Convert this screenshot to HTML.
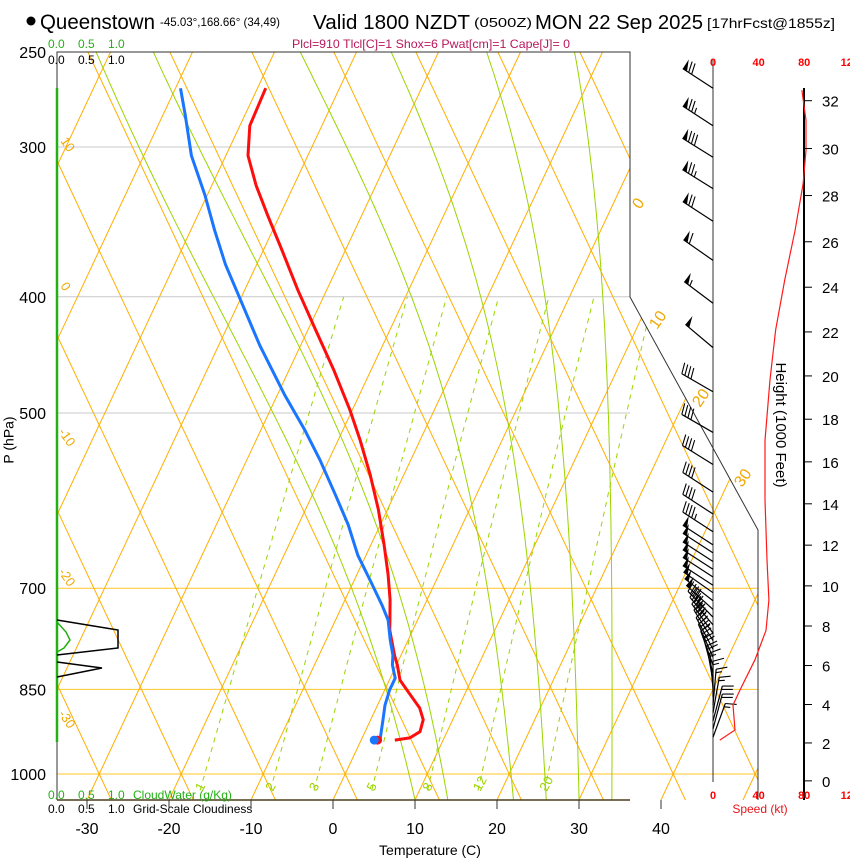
<!DOCTYPE html>
<html><head><meta charset="utf-8">
<style>
html,body{margin:0;padding:0;background:#fff;}
svg{display:block;font-family:"Liberation Sans",sans-serif;}
</style></head>
<body>
<svg id="chart" width="850" height="860" viewBox="0 0 850 860" xmlns="http://www.w3.org/2000/svg">
<defs>
<clipPath id="plotclip"><polygon points="57,52 630,52 630,297 758,530 758,800 57,800"/></clipPath>
<clipPath id="mainclip"><rect x="57" y="52" width="573" height="748"/></clipPath>
</defs>
<g id="title">
<circle cx="31" cy="21" r="4.5" fill="#000"/>
<text x="40" y="29" font-size="21" textLength="115" lengthAdjust="spacingAndGlyphs">Queenstown</text>
<text x="160" y="26" font-size="12" textLength="120" lengthAdjust="spacingAndGlyphs">-45.03°,168.66° (34,49)</text>
<text x="313" y="29" font-size="20" textLength="157" lengthAdjust="spacingAndGlyphs">Valid 1800 NZDT</text>
<text x="474" y="27" font-size="13" textLength="58" lengthAdjust="spacingAndGlyphs">(0500Z)</text>
<text x="535" y="29" font-size="20" textLength="168" lengthAdjust="spacingAndGlyphs">MON 22 Sep 2025</text>
<text x="707" y="28" font-size="14" textLength="128" lengthAdjust="spacingAndGlyphs">[17hrFcst@1855z]</text>
<text x="292" y="48" font-size="12" fill="#b8185c" textLength="278" lengthAdjust="spacingAndGlyphs">Plcl=910 Tlcl[C]=1 Shox=6 Pwat[cm]=1 Cape[J]= 0</text>
</g>
<g id="grid" clip-path="url(#plotclip)"></g>
<g id="frame">
<polyline points="57,800 57,52 630,52 630,297 758,530 758,800" fill="none" stroke="#333" stroke-width="1"/>
<line x1="57" y1="800" x2="630" y2="800" stroke="#4a3f1a" stroke-width="1.5"/>
<line x1="713" y1="60" x2="713" y2="782" stroke="#333" stroke-width="1"/>
<line x1="804" y1="88" x2="804" y2="800" stroke="#000" stroke-width="2"/>
</g>
<g id="labels" font-size="15">
<text x="10" y="440" font-size="14" transform="rotate(-90 10 440)" text-anchor="middle" dominant-baseline="middle">P (hPa)</text>
<text x="430" y="855" font-size="14" text-anchor="middle">Temperature (C)</text>
<text x="780" y="425" font-size="15" transform="rotate(90 780 425)" text-anchor="middle" dominant-baseline="middle">Height (1000 Feet)</text>
<text x="760" y="813" font-size="12" fill="#e8141c" text-anchor="middle">Speed (kt)</text>
<g font-size="12" fill="#22b014"><text x="48" y="48">0.0</text><text x="78" y="48">0.5</text><text x="108" y="48">1.0</text></g>
<g font-size="12" fill="#000"><text x="48" y="64">0.0</text><text x="78" y="64">0.5</text><text x="108" y="64">1.0</text></g>
<g font-size="12" fill="#22b014"><text x="48" y="799">0.0</text><text x="78" y="799">0.5</text><text x="108" y="799">1.0</text><text x="133" y="799">CloudWater (g/Kg)</text></g>
<g font-size="12" fill="#000"><text x="48" y="813">0.0</text><text x="78" y="813">0.5</text><text x="108" y="813">1.0</text><text x="133" y="813">Grid-Scale Cloudiness</text></g>
<g font-size="13" fill="#f0a800">
<text transform="translate(60,141) rotate(55)">10</text>
<text transform="translate(60,286) rotate(55)">0</text>
<text transform="translate(58,432) rotate(55)">-10</text>
<text transform="translate(58,572) rotate(55)">-20</text>
<text transform="translate(58,714) rotate(55)">-30</text>
<text transform="translate(640,210) rotate(-55)" font-size="16">0</text>
<text transform="translate(657,330) rotate(-55)" font-size="16">10</text>
<text transform="translate(700,408) rotate(-55)" font-size="16">20</text>
<text transform="translate(742,488) rotate(-55)" font-size="16">30</text>
</g>
</g>
<g id="cloud">
<line x1="57" y1="88" x2="57" y2="742" stroke="#22b014" stroke-width="2.5"/>
<polyline points="57,620 118,630 118,648 57,655" fill="none" stroke="#000" stroke-width="1.5"/>
<polyline points="57,662 102,668 57,677" fill="none" stroke="#000" stroke-width="1.5"/>
<polyline points="57,622 66,632 70,640 64,648 57,652" fill="none" stroke="#22b014" stroke-width="1.5"/>
</g>
<g id="data" clip-path="url(#mainclip)"></g>
<g id="wind"></g>
<g id="axes"></g>
</svg>
<script>
// ---- data ----
const pressureTicks = [250, 300, 400, 500, 700, 850, 1000];
const tempTicks = [-30, -20, -10, 0, 10, 20, 30, 40];
const heightTicks = [0, 2, 4, 6, 8, 10, 12, 14, 16, 18, 20, 22, 24, 26, 28, 30, 32];
const speedTicks = [0, 40, 80, 120];
const mixRatios = [1, 2, 3, 5, 8, 12, 20];
const moistStartT = [10, 14, 22, 26, 30, 34];
const tempP = [268,288,305,323,342,366,395,426,460,497,527,563,602,644,682,716,759,796,811,835,859,881,901,922,933,937];
const tempT = [-49.0,-48.8,-47.3,-44.6,-41.5,-37.7,-33.5,-29.1,-24.6,-20.3,-17.3,-14.1,-11.1,-8.4,-6.2,-4.5,-2.8,-0.8,0.1,1.3,3.4,5.3,6.4,6.7,5.8,4.1];
const dewP = [268,282,305,329,352,376,402,439,483,517,547,585,620,657,689,723,744,773,796,811,832,851,876,901,937];
const dewT = [-59.4,-57.3,-54.2,-50.3,-47.1,-43.8,-40.0,-35.0,-29.1,-24.6,-21.1,-17.2,-13.9,-11.0,-8.1,-5.2,-3.6,-2.2,-1.0,-0.5,0.6,0.6,0.9,1.5,2.3];
const sfcP = 937, sfcT = 2.0, sfcTd = 1.6;
const windP = [268,288,306,325,346,373,405,441,480,519,552,582,607,628,644,654,665,675,685,696,706,717,729,740,751,763,774,787,799,811,824,837,849,863,876,889,903,917,932];
const windSpd = [70,75,78,75,70,62,55,50,40,40,40,40,40,45,48,48,48,48,48,48,48,48,48,46,45,43,40,35,30,25,22,18,15,15,15,17,20,20,15];
const windDir = [303,303,302,302,303,305,307,310,300,300,302,303,303,303,303,303,303,303,303,303,305,308,312,316,320,324,328,332,336,340,345,350,355,0,5,10,15,15,20];
const speedP = [269,285,302,322,352,387,426,469,527,591,663,716,759,803,851,876,919,937];
const speedV = [78,81.6,81.6,79,72,63,55,50,45.6,45.6,47.4,49,46.5,36.8,23.7,17.5,19.3,6];

// ---- axis functions ----
const NS = "http://www.w3.org/2000/svg";
function yP(p){ return 774 - 520.8*Math.log(1000/p); }
function xT(T,p){ return 333 + 8.2*T + 0.47*(800 - yP(p)); }
function pY(y){ return 1000*Math.exp(-(774-y)/520.8); }
function xSpd(s){ return 713 + 1.14*s; }
function yHt(kft){ const zm = kft*304.8; const p = 1013.25*Math.pow(1 - zm/44330.8, 5.2559); return yP(p); }
function mk(tag, attrs, parent){ const e = document.createElementNS(NS, tag); for (const k in attrs) e.setAttribute(k, attrs[k]); parent.appendChild(e); return e; }
function pathFrom(pts){ return pts.map((q,i)=>(i?'L':'M')+q[0].toFixed(1)+','+q[1].toFixed(1)).join(''); }

const grid = document.getElementById('grid');
// pressure lines
pressureTicks.forEach(p=>{
  const y = yP(p);
  const orange = (p===700||p===850||p===1000);
  const l = mk('line',{x1:57,y1:y,x2:orange?758:630,y2:y,stroke:orange?'#ffc629':'#c8c8c8','stroke-width':1},grid);
  
  
});
// isotherms & dry adiabats (straight)
for (let k=-20;k<=12;k++){
  const c = 345.2 + 82*k;
  const a = mk('line',{x1:c+0.47*(774-810),y1:810,x2:c+0.47*(774-40),y2:40,stroke:'#ffae00','stroke-width':1},grid);
  
  
  const b = mk('line',{x1:c-0.47*(774-810),y1:810,x2:c-0.47*(774-40),y2:40,stroke:'#ffae00','stroke-width':1},grid);
  
  
}
// moist adiabats
function esat(T){ return 6.112*Math.exp(17.67*T/(T+243.5)); }
moistStartT.forEach(T0=>{
  let T=T0, pts=[];
  for (let p=1051; p>=245; p-=3){
    pts.push([xT(T,p), yP(p)]);
    const Tk=T+273.15, es=esat(T), rs=0.622*es/(p-es);
    const dTdp=(287*Tk+2.5e6*rs)/(p*(1005+(2.5e6*2.5e6*rs*0.622)/(287*Tk*Tk)));
    T -= dTdp*3;
  }
  const m = mk('path',{d:pathFrom(pts),fill:'none',stroke:'#9bd400','stroke-width':1},grid);
  
  
});
// mixing ratio lines
mixRatios.forEach(w=>{
  const pts=[];
  for (let p=1032; p>=400; p-=8){
    const e=w*p/(622+w), L=Math.log(e/6.112), Td=243.5*L/(17.67-L);
    pts.push([xT(Td,p), yP(p)]);
  }
  const m = mk('path',{d:pathFrom(pts),fill:'none',stroke:'#9bd400','stroke-width':1,'stroke-dasharray':'5,5'},grid);
  
  
  const e=w*1030/(622+w), L=Math.log(e/6.112), Td=243.5*L/(17.67-L);
  const x = xT(Td,1030)+2;
  const t = mk('text',{x:0,y:0,'font-size':13,fill:'#9bd400',transform:`translate(${x.toFixed(1)},792) rotate(-62)`},grid);
  t.textContent = String(w);
  
  
});

// sounding
const data = document.getElementById('data');
const tPath = mk('path',{d:pathFrom(tempP.map((p,i)=>[xT(tempT[i],p),yP(p)])),fill:'none',stroke:'#ff0d0d','stroke-width':3,'stroke-linejoin':'round'},data);


const dPath = mk('path',{d:pathFrom(dewP.map((p,i)=>[xT(dewT[i],p),yP(p)])),fill:'none',stroke:'#1a75ff','stroke-width':3,'stroke-linejoin':'round'},data);


const sd1 = mk('circle',{cx:xT(sfcT,sfcP),cy:yP(sfcP),r:4.5,fill:'#ff0d0d'},data);


const sd2 = mk('circle',{cx:xT(sfcTd,sfcP),cy:yP(sfcP),r:4.5,fill:'#1a75ff'},data);



// wind barbs
const wind = document.getElementById('wind');
windP.forEach((p,i)=>{
  const g = mk('g',{},wind);
  
  
  const d = windDir[i]*Math.PI/180, ux=Math.sin(d), uy=-Math.cos(d), nx=-uy, ny=ux;
  const bx=713, by=yP(p), L=36;
  const tx=bx+ux*L, ty=by+uy*L;
  mk('line',{x1:bx,y1:by,x2:tx,y2:ty,stroke:'#000','stroke-width':1.2},g);
  let s = Math.round(windSpd[i]/5)*5, pos=0;
  while (s>=50){
    const ax=tx-ux*pos, ay=ty-uy*pos, cx2=tx-ux*(pos+5), cy2=ty-uy*(pos+5);
    mk('polygon',{points:`${ax},${ay} ${ax+nx*11},${ay+ny*11} ${cx2},${cy2}`,fill:'#000'},g);
    pos+=7; s-=50;
  }
  while (s>=10){
    const ax=tx-ux*pos, ay=ty-uy*pos;
    mk('line',{x1:ax,y1:ay,x2:ax+nx*11+ux*3,y2:ay+ny*11+uy*3,stroke:'#000','stroke-width':1.1},g);
    pos+=3.5; s-=10;
  }
  if (s>=5){
    const ax=tx-ux*pos, ay=ty-uy*pos;
    mk('line',{x1:ax,y1:ay,x2:ax+nx*6+ux*1.5,y2:ay+ny*6+uy*1.5,stroke:'#000','stroke-width':1.1},g);
  }
});
// speed profile
const sp = mk('path',{d:pathFrom(speedP.map((p,i)=>[xSpd(speedV[i]),yP(p)])),fill:'none',stroke:'#ff1a1a','stroke-width':1.2},wind);



// axes
const axes = document.getElementById('axes');
pressureTicks.forEach(p=>{
  const t = mk('text',{x:46,y:yP(p)+6,'font-size':16,'text-anchor':'end'},axes);
  t.textContent = String(p);
  
  
});
tempTicks.forEach(T=>{
  const x = 333 + 8.2*T;
  const l = mk('line',{x1:x,y1:800,x2:x,y2:809,stroke:'#333','stroke-width':1},axes);
  
  
  const t = mk('text',{x:x,y:834,'font-size':16,'text-anchor':'middle'},axes);
  t.textContent = String(T);
  
  
});
heightTicks.forEach(h=>{
  const y = yHt(h);
  const l = mk('line',{x1:804,y1:y,x2:812,y2:y,stroke:'#000','stroke-width':1},axes);
  
  
  const t = mk('text',{x:822,y:y+6,'font-size':15},axes);
  t.textContent = String(h);
  
  
});
speedTicks.forEach(s=>{
  [66,799].forEach(y=>{
    const t = mk('text',{x:xSpd(s),y:y,'font-size':11,'font-weight':'bold',fill:'#ff0000','text-anchor':'middle'},axes);
    t.textContent = String(s);
    
    
  });
});
</script>
</body></html>
